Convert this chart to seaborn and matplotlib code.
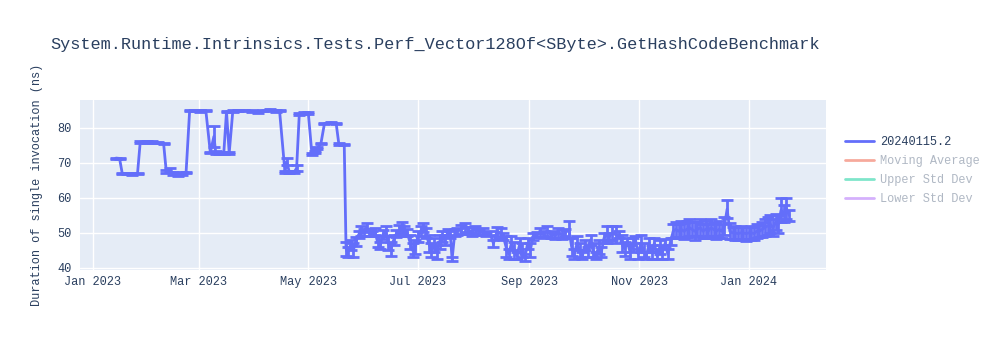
import matplotlib
matplotlib.use("Agg")
import matplotlib.pyplot as plt
import matplotlib.dates as mdates
from matplotlib.lines import Line2D
import numpy as np
import pandas as pd
import seaborn as sns

# ---- data (days after 2023-01-01, mean ns, std dev) ----
day_offsets = [
    13, 15, 16.5, 19, 22, 25, 26.5, 30, 33, 36.5, 39.5, 41, 43, 45, 47.5, 50, 52,
    54, 57, 60, 63, 65.5, 67.5, 68.5, 70.5, 73, 74.5, 76, 78, 81, 84.5, 88.5, 92,
    95, 98.5, 102, 104, 107, 108, 109.5, 112, 113.5, 115, 117.5, 120, 122, 123.5,
    125, 127, 129, 132.5, 135.5, 137, 140,
    141, 142, 143.5, 145, 146.5, 148, 149.5, 151, 152.5, 154, 155.5, 157, 158.5,
    160, 161.5, 163, 164.5, 166, 167.5, 169, 170.5, 172, 173.5, 175, 176.5, 178,
    179.5, 181, 182.5, 184, 185.5, 187, 188.5, 190, 191.5, 193, 194.5, 196, 197.5,
    199, 200, 201.5, 203, 205, 207, 209, 211, 213, 215, 217, 219, 221, 223, 225,
    227, 228.5, 230, 231.5, 233, 234.5, 236, 237.5, 239, 240.5, 242, 243.5, 245,
    247, 249, 251, 253, 255, 257, 259, 261, 263, 265, 266.5, 268, 269.5, 271,
    272.5, 274, 275.5, 277, 278.5, 280, 281.5, 283, 284.5, 286, 287.5, 289, 291,
    293, 294.5, 296, 297.5, 299, 300.5, 302, 303.5, 305, 306.5, 308, 309.5, 311,
    312.5, 314, 315.5, 317, 318.5, 320, 321.5, 323, 324.5, 326, 327.5, 329, 330.5,
    332, 333.5, 335, 336.5, 338, 339.5, 341, 342.5, 344, 345.5, 347, 348.5, 350,
    351.5, 353, 354.5, 356, 357.5, 359, 360.5, 362, 363.5, 365, 366.5, 368, 369.5,
    371, 372.5, 374, 375.5, 377, 378.5, 380, 381.5, 383, 384.5, 386, 387.5,
]
durations = [
    71.4, 71.3, 67.0, 67.0, 66.8, 67.0, 76.0, 76.0, 76.0, 75.8, 75.6, 67.5, 68.0,
    67.0, 66.7, 67.0, 67.2, 85.0, 85.0, 84.9, 85.0, 73.0, 77.6, 73.0, 72.7, 72.9,
    84.7, 72.8, 84.8, 85.0, 85.0, 84.8, 84.5, 85.0, 85.2, 84.8, 85.0, 67.5, 70.3,
    67.3, 67.3, 68.5, 84.0, 84.3, 84.3, 72.6, 73.2, 74.2, 75.5, 81.3, 81.5, 81.3,
    75.4, 75.3,
    45.5, 44.5, 46.5, 45.0, 47.5, 49.5, 50.5, 50.0, 51.5, 50.0, 49.8, 50.5, 47.5,
    46.5, 49.5, 50.5, 47.0, 45.5, 48.0, 49.8, 50.8, 51.5, 50.5, 50.0, 47.5, 45.0,
    46.0, 49.0, 50.5, 51.5, 50.0, 47.0, 45.0, 46.5, 44.5, 47.5, 49.0, 48.0, 50.0,
    49.5, 42.5, 50.0, 50.5, 51.0, 51.5, 50.8, 50.5, 51.0, 50.2, 50.5, 49.8, 50.0,
    47.0, 50.5, 50.0, 49.0, 46.0, 44.0, 47.0, 45.0, 43.5, 46.5, 45.0, 43.0, 47.0,
    45.0, 49.0, 49.5, 50.0, 49.5, 50.5, 49.5, 49.2, 50.0, 49.5, 50.0, 51.0, 46.0,
    44.0, 47.0, 45.0, 43.5, 46.5, 44.5, 48.0, 45.0, 43.5, 46.0, 44.5, 48.5, 49.5,
    49.0, 50.0, 49.5, 49.5, 47.0, 45.5, 47.5, 44.5, 46.5, 48.0, 44.0, 47.0, 45.0,
    43.5, 46.5, 44.5, 47.0, 43.5, 46.0, 44.5, 47.0, 44.0, 47.5, 50.5, 51.0, 50.5,
    51.0, 50.5, 51.0, 51.5, 51.0, 50.5, 51.0, 51.5, 50.5, 51.0, 50.5, 51.5, 51.0,
    50.5, 51.0, 50.5, 52.0, 56.8, 50.5, 50.0, 50.0, 49.8, 50.0, 50.0, 49.8, 50.0,
    50.0, 49.8, 50.5, 50.5, 51.0, 51.5, 52.0, 52.5, 51.5, 53.0, 52.5, 56.5, 55.5,
    57.0, 55.0,
]
std_devs = [
    0.15, 0.15, 0.2, 0.2, 0.2, 0.2, 0.15, 0.15, 0.2, 0.2, 0.15, 0.5, 0.5, 0.3,
    0.3, 0.3, 0.2, 0.2, 0.2, 0.2, 0.2, 0.2, 3.0, 0.3, 0.2, 0.3, 0.2, 0.3, 0.2,
    0.2, 0.2, 0.2, 0.3, 0.2, 0.3, 0.2, 0.2, 0.3, 1.0, 0.3, 0.3, 0.8, 0.2, 0.3,
    0.2, 0.2, 0.3, 0.3, 0.2, 0.2, 0.2, 0.2, 0.2, 0.2,
    2.0, 1.5, 1.5, 2.0, 1.2, 1.0, 1.5, 1.0, 1.2, 1.0, 0.8, 1.0, 1.5, 1.0, 1.2,
    1.5, 2.0, 2.0, 1.5, 1.0, 1.5, 1.5, 1.5, 1.0, 2.0, 2.0, 2.0, 1.5, 1.5, 1.3,
    1.5, 2.5, 2.0, 2.0, 2.0, 2.0, 1.5, 1.5, 1.0, 1.0, 0.5, 1.0, 1.0, 1.2, 1.2,
    1.0, 1.3, 1.0, 0.8, 1.0, 0.6, 0.6, 1.0, 1.3, 1.5, 1.0, 3.0, 1.5, 2.0, 2.5,
    1.0, 2.0, 2.0, 1.0, 1.5, 2.0, 1.0, 0.8, 1.3, 1.0, 1.5, 1.0, 0.8, 1.5, 1.2,
    1.0, 2.4, 2.5, 1.5, 2.0, 2.0, 1.0, 1.5, 1.5, 1.5, 2.0, 1.0, 2.0, 1.5, 1.5,
    2.5, 1.0, 2.0, 2.5, 1.0, 2.5, 2.0, 1.0, 2.0, 2.0, 1.0, 1.5, 2.5, 2.0, 1.0,
    2.0, 2.0, 1.5, 1.0, 2.0, 2.0, 1.2, 1.5, 1.0, 2.0, 2.2, 2.0, 2.3, 2.2, 2.3,
    2.5, 2.2, 2.5, 2.0, 2.5, 2.0, 2.5, 2.0, 2.5, 2.0, 2.2, 2.5, 2.0, 2.5, 2.6,
    2.2, 1.8, 2.0, 1.8, 2.0, 1.8, 2.0, 1.8, 2.0, 1.8, 2.0, 1.8, 2.2, 2.5, 2.5,
    2.5, 2.5, 2.3, 2.5, 3.5, 2.5, 3.0, 1.5,
]

title = "System.Runtime.Intrinsics.Tests.Perf_Vector128Of<SByte>.GetHashCodeBenchmark"
y_label = "Duration of single invocation (ns)"
series_names = ["20240115.2", "Moving Average", "Upper Std Dev", "Lower Std Dev"]
series_colors = ["#636efa", "#EF553B", "#00cc96", "#ab63fa"]
y_ticks = [40, 50, 60, 70, 80]
x_tick_dates = ["2023-01-01", "2023-03-01", "2023-05-01", "2023-07-01",
                "2023-09-01", "2023-11-01", "2024-01-01"]

df = pd.DataFrame({
    "date": pd.Timestamp("2023-01-01") + pd.to_timedelta(day_offsets, unit="D"),
    "duration": durations,
    "std": std_devs,
})

sns.set_theme(style="darkgrid")
FONT = ["Liberation Mono", "DejaVu Sans Mono"]
TXT = "#2a3f5f"
plt.rcParams["font.family"] = FONT

fig = plt.figure(figsize=(10, 3.5), dpi=100)
ax = fig.add_axes([0.080, 1 - 270 / 350, 0.746, 170 / 350])
ax.set_facecolor("#e5ecf6")
fig.patch.set_facecolor("white")

ax.errorbar(df["date"], df["duration"], yerr=df["std"], fmt="none",
            ecolor=series_colors[0], elinewidth=2, capsize=4.2, capthick=2, zorder=3)
sns.lineplot(data=df, x="date", y="duration", ax=ax, color=series_colors[0],
             linewidth=2, sort=False, estimator=None, legend=False, zorder=4)

ax.set_ylim(39.4, 88)
ax.set_xlim(pd.Timestamp("2022-12-25"), pd.Timestamp("2024-02-13"))
ax.set_yticks(y_ticks)
ax.set_xticks(pd.to_datetime(x_tick_dates))
ax.xaxis.set_major_formatter(mdates.DateFormatter("%b %Y"))
ax.grid(True, color="white", linewidth=1)
for s in ax.spines.values():
    s.set_visible(False)
ax.tick_params(axis="both", length=0, labelsize=8.6, labelcolor=TXT)
ax.tick_params(axis="y", pad=6)
ax.tick_params(axis="x", pad=4)
ax.set_xlabel("")
ax.set_ylabel("")

fig.text(0.037, 1 - 185 / 350, y_label, rotation=90, ha="center", va="center",
         fontsize=8.6, color=TXT)
fig.text(0.050, 1 - 45 / 350, title, ha="left", va="center", fontsize=12.2, color=TXT)

handles = [Line2D([0], [0], color=series_colors[0], linewidth=2)]
for c in series_colors[1:]:
    handles.append(Line2D([0], [0], color=c, linewidth=2, alpha=0.5))
leg = fig.legend(handles, series_names, loc="upper left",
                 bbox_to_anchor=(0.845, 1 - 136 / 350), frameon=False,
                 fontsize=8.6, handlelength=2.4, handletextpad=0.5,
                 labelspacing=0.6, borderaxespad=0, borderpad=0)
for i, t in enumerate(leg.get_texts()):
    t.set_color(TXT if i == 0 else "#b0b8c4")

fig.savefig("out.png", dpi=100)
